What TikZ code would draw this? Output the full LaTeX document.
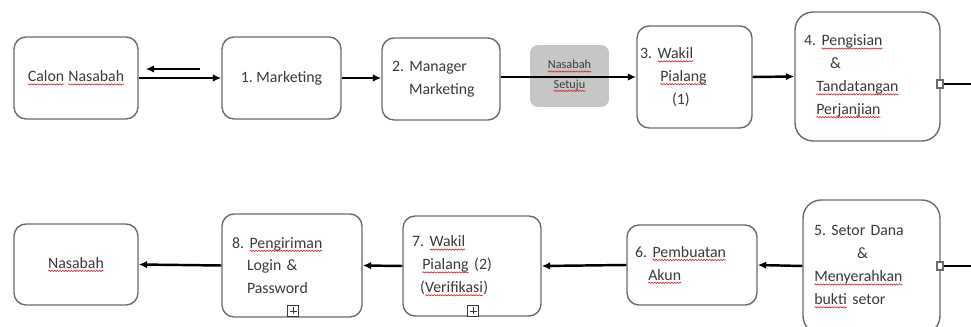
\documentclass[tikz,border=0pt]{standalone}
\usepackage{fontspec}
\setmainfont{Carlito}
\usepackage{xcolor}
\usetikzlibrary{positioning, arrows.meta, decorations.pathmorphing}
\definecolor{txtgray}{HTML}{3A3A3A}
\definecolor{linegray}{HTML}{6A6A6A}
\definecolor{setujugray}{HTML}{C6C6C6}
\definecolor{splred}{HTML}{D42020}
\frenchspacing
% red wavy spell-check underline
\newcommand{\spl}[1]{\tikz[baseline=(w.base)]{\node[draw=none, fill=none, text width=, minimum size=0pt,
    inner sep=0pt, outer sep=0pt, rounded corners=0pt, text=txtgray] (w) {#1};
  \draw[splred, line width=0.35pt, rounded corners=0pt, decorate, decoration={snake, amplitude=0.35pt, segment length=1.6pt}]
    ([yshift=-1.6pt]w.base west) -- ([yshift=-1.6pt]w.base east);}}

\begin{document}
\begin{tikzpicture}[
        x=0.02cm, y=-0.02cm,
        proc/.style={draw=linegray, line width=0.8pt, rounded corners=0.24cm, fill=white,
          text=txtgray, font=\fontsize{9}{13}\selectfont, inner ysep=0pt},
        bigproc/.style={proc, rounded corners=0.36cm},
        setuju/.style={fill=setujugray, rounded corners=0.16cm, text=txtgray, align=center,
          minimum width=1.58cm, minimum height=1.24cm, font=\fontsize{7}{11}\selectfont},
        port/.style={draw=linegray, fill=white, line width=0.6pt, inner sep=0pt,
          minimum width=0.12cm, minimum height=0.16cm},
        expand/.style={draw=txtgray, fill=white, line width=0.6pt, inner sep=0pt,
          minimum size=0.22cm, path picture={
            \draw[txtgray, line width=0.5pt] ([yshift=0.04cm]path picture bounding box.south) -- ([yshift=-0.04cm]path picture bounding box.north);
            \draw[txtgray, line width=0.5pt] ([xshift=0.04cm]path picture bounding box.west) -- ([xshift=-0.04cm]path picture bounding box.east);}},
        arr/.style={line width=1.4pt, -{Latex[length=0.17cm, width=0.15cm]}},
        flow/.style={line width=1.4pt}
      ]
      \useasboundingbox (0,0) rectangle (971,327);

      % top row
      \node[proc, minimum width=2.48cm, minimum height=1.64cm, align=center] (calon) at (76,78) {\spl{Calon} \spl{Nasabah}};
      \node[proc, minimum width=2.38cm, minimum height=1.64cm, align=center] (marketing) at (281.5,78) {1. Marketing};
      \node[proc, text width=1.96cm, inner xsep=0.2cm, minimum height=1.64cm, align=left] (manager) at (441,79)
        {2. Manager\\\hspace*{0.34cm}Marketing};
      \node[setuju] (setuju) at (569.5,76) {\spl{Nasabah}\\\spl{Setuju}};
      \node[proc, text width=2.18cm, inner xsep=0.06cm, minimum height=2.04cm, align=left] (wakila) at (694.5,77)
        {3. \spl{Wakil}\\\hspace*{0.4cm}\spl{Pialang}\\\hspace*{0.64cm}(1)};
      \node[bigproc, text width=2.54cm, inner xsep=0.18cm, minimum height=2.58cm, align=left] (pengisian) at (867.5,76.5)
        {4. \spl{Pengisian}\\\hspace*{0.52cm}\&\\\hspace*{0.24cm}\spl{Tandatangan}\\\hspace*{0.24cm}\spl{Perjanjian}};
      \node[port] (porta) at (940,84) {};
      \coordinate (outa) at (971,84);
      \coordinate (ret) at (200,69);

      % bottom row
      \node[proc, minimum width=2.48cm, minimum height=1.62cm, align=center] (nasabah) at (76,264.5) {\spl{Nasabah}};
      \node[proc, text width=2.4cm, inner xsep=0.2cm, minimum height=2.06cm, align=left] (pengiriman) at (292,265.5)
        {8. \spl{Pengiriman}\\\hspace*{0.3cm}Login \&\\\hspace*{0.3cm}Password};
      \node[proc, text width=2.4cm, inner xsep=0.18cm, minimum height=2cm, align=left] (wakilb) at (472,266)
        {7. \spl{Wakil}\\\hspace*{0.2cm}\spl{Pialang} (2)\\\hspace*{0.16cm}(\spl{Verifikasi})};
      \node[proc, text width=2.28cm, inner xsep=0.16cm, minimum height=1.6cm, align=left] (pembuatan) at (692,265)
        {6. \spl{Pembuatan}\\\hspace*{0.26cm}\spl{Akun}};
      \node[bigproc, text width=2.3cm, inner xsep=0.22cm, minimum height=2.68cm, align=left] (setor) at (871.5,267)
        {5. Setor Dana\\\hspace*{0.86cm}\&\\\spl{Menyerahkan}\\\spl{bukti} setor\\[0.2cm]};
      \node[port] (portb) at (940,266) {};
      \coordinate (outb) at (971,266);
      \node[expand] (expa) at (293,311) {};
      \node[expand] (expb) at (473,311) {};

      % connectors
      \draw[arr] (calon.east) -- (marketing.west);
      \draw[arr, shorten >=0.14cm] (ret) -- (calon.east |- ret);
      \draw[arr] (marketing.east) -- (marketing.east -| manager.west);
      \draw[arr] (manager.east |- wakila.west) -- (wakila.west);
      \draw[arr] (wakila.east) -- (pengisian.west);
      \draw[flow] (porta.east) -- (outa);
      \draw[flow] (portb.east) -- (outb);
      \draw[arr] (setor.west |- portb) -- (pembuatan.east);
      \draw[arr] (pembuatan.west) -- (wakilb.east);
      \draw[arr] (wakilb.west) -- (pengiriman.east);
      \draw[arr] (pengiriman.west) -- (nasabah.east);
\end{tikzpicture}
\end{document}
